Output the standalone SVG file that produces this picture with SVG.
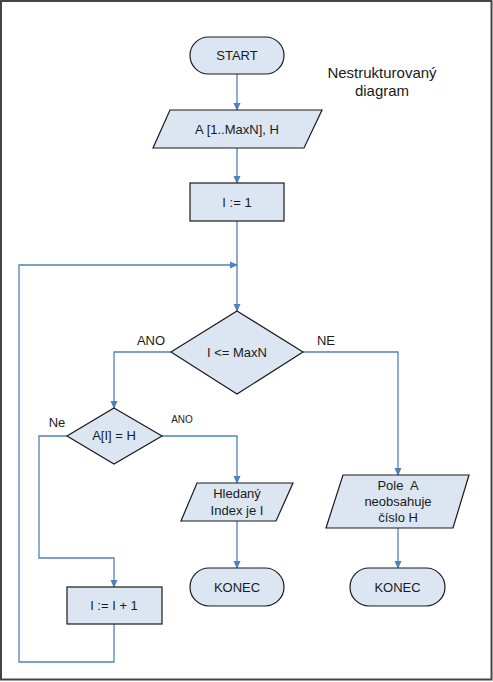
<svg xmlns="http://www.w3.org/2000/svg" width="493" height="682" viewBox="0 0 493 682">
<defs>
<marker id="arr" markerWidth="8" markerHeight="8" refX="7" refY="4" orient="auto" markerUnits="userSpaceOnUse">
<path d="M0,0.5 L8,4 L0,7.5 z" fill="#4f81bd"/>
</marker>
<style>
.n{fill:#dce6f2;stroke:#1a1a1a;stroke-width:1.2}
.c{fill:none;stroke:#4f81bd;stroke-width:1.3}
.t{font-family:"Liberation Sans",Arial,sans-serif;font-size:13px;fill:#1a1a1a;text-anchor:middle;dominant-baseline:central}
.s{font-size:10px}
</style>
</defs>
<rect x="0" y="0" width="493" height="682" fill="#ffffff"/>
<rect x="1" y="1" width="490.5" height="678.5" fill="none" stroke="#444" stroke-width="2"/>
<g id="title"><text class="t" x="382" y="72" style="font-size:15px">Nestrukturovaný</text><text class="t" x="382" y="90" style="font-size:15px">diagram</text></g>
<g id="connectors">
<path class="c" d="M237,74 V110" marker-end="url(#arr)"/>
<path class="c" d="M237,148 V183" marker-end="url(#arr)"/>
<path class="c" d="M237,221 V311" marker-end="url(#arr)"/>
<path class="c" d="M171,352 H114 V408" marker-end="url(#arr)"/>
<path class="c" d="M303,352 H398 V475" marker-end="url(#arr)"/>
<path class="c" d="M162,436 H237 V483" marker-end="url(#arr)"/>
<path class="c" d="M237,521 V568" marker-end="url(#arr)"/>
<path class="c" d="M398,528 V568" marker-end="url(#arr)"/>
<path class="c" d="M67,436 H39 V558 H114 V587" marker-end="url(#arr)"/>
<path class="c" d="M114,624 V662 H19 V265 H237" marker-end="url(#arr)"/>
<text class="t" x="151" y="340">ANO</text>
<text class="t" x="326" y="340">NE</text>
<text class="t" x="57" y="422">Ne</text>
<text class="t s" x="182" y="419">ANO</text>
</g>
<g id="start"><rect class="n" x="190" y="37" width="94" height="37" rx="18.5"/><text class="t" x="237" y="55">START</text></g>
<g id="input"><polygon class="n" points="170,110 322,110 304,148 153,148"/><text class="t" x="237" y="129">A [1..MaxN], H</text></g>
<g id="init"><rect class="n" x="190" y="183" width="94" height="38"/><text class="t" x="237" y="202">I := 1</text></g>
<g id="cond1"><polygon class="n" points="237,311 303,352 237,394 171,352"/><text class="t" x="237" y="352">I &lt;= MaxN</text></g>
<g id="cond2"><polygon class="n" points="114,408 162,436 114,464 67,436"/><text class="t" x="114" y="435">A[I] = H</text></g>
<g id="found"><polygon class="n" points="197,483 293,483 276,521 181,521"/><text class="t" x="237" y="493">Hledaný</text><text class="t" x="237" y="510">Index je I</text></g>
<g id="notfound"><polygon class="n" points="343,475 469,475 453,528 326,528"/><text class="t" x="398" y="485" style="white-space:pre">Pole  A</text><text class="t" x="398" y="501">neobsahuje</text><text class="t" x="398" y="517">číslo H</text></g>
<g id="end1"><rect class="n" x="190" y="568" width="94" height="38" rx="19"/><text class="t" x="237" y="587">KONEC</text></g>
<g id="end2"><rect class="n" x="350" y="568" width="95" height="38" rx="19"/><text class="t" x="397.5" y="587">KONEC</text></g>
<g id="inc"><rect class="n" x="67" y="587" width="95" height="37"/><text class="t" x="114" y="605">I := I + 1</text></g>
</svg>
